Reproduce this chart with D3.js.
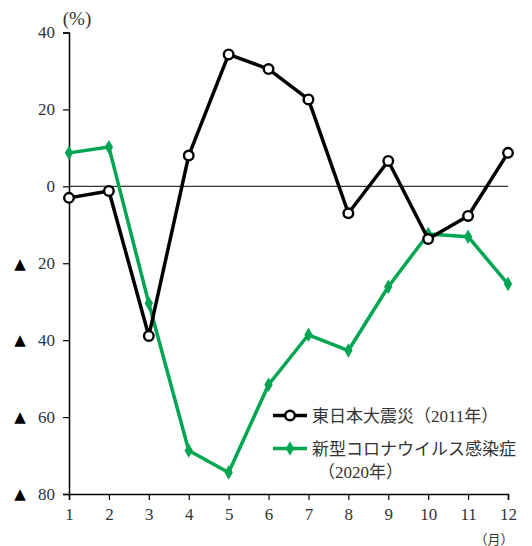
<!DOCTYPE html>
<html><head><meta charset="utf-8">
<script src="https://cdn.jsdelivr.net/npm/d3@7"></script>
<style>
body{margin:0;background:#fff;}
text{font-family:"Liberation Serif","DejaVu Serif","Noto Sans CJK JP",serif;fill:#333;}
</style></head>
<body><svg id="c" width="532" height="546"></svg>
<script>
const months = [1,2,3,4,5,6,7,8,9,10,11,12];
const quake2011 = [-3.0,-1.2,-38.9,8.0,34.3,30.5,22.6,-7.0,6.6,-13.7,-7.7,8.7];
const covid2020 = [8.7,10.2,-30.4,-68.7,-74.4,-51.6,-38.6,-42.7,-26.1,-12.4,-13.1,-25.4];
const yTicks = [40,20,0,-20,-40,-60,-80];
const seriesNames = ["東日本大震災（2011年）","新型コロナウイルス感染症","（2020年）"];
const colors = ["#000000","#00a651"];

const svg = d3.select("#c");
const x = d3.scaleLinear().domain([1,12]).range([69,508]);
const y = d3.scaleLinear().domain([-80,40]).range([494,32.5]);

// zero line
svg.append("line").attr("x1",x(1)).attr("x2",x(12)).attr("y1",y(0)).attr("y2",y(0))
  .attr("stroke","#333").attr("stroke-width",1.2);

// y axis
const ya = svg.append("g").attr("transform","translate(69,0)")
  .call(d3.axisLeft(y).tickValues(yTicks).tickSize(6).tickFormat(d=>Math.abs(d)));
ya.attr("font-family",null).attr("font-size",null);
ya.select(".domain").attr("stroke","#000").attr("stroke-width",1.5);
ya.selectAll(".tick line").attr("stroke","#000").attr("stroke-width",1.2);
ya.selectAll(".tick text").attr("x",-14).style("font-size","17px").style("fill","#333");
ya.selectAll(".tick").filter(d=>d<0).append("text").attr("x",-49).attr("dy","0.32em")
  .attr("text-anchor","middle").text("▲")
  .style("font-family","'DejaVu Sans',sans-serif").style("fill","#000").style("font-size","15px");

// x axis
const xa = svg.append("g").attr("transform","translate(0,494)")
  .call(d3.axisBottom(x).tickValues(months).tickSize(6).tickSizeOuter(6).tickFormat(d=>d));
xa.attr("font-family",null).attr("font-size",null);
xa.select(".domain").attr("stroke","#000").attr("stroke-width",1.5);
xa.selectAll(".tick line").attr("stroke","#000").attr("stroke-width",1.2);
xa.selectAll(".tick text").attr("y",14).style("font-size","17px").style("fill","#333");

svg.append("text").attr("x",77).attr("y",25).attr("text-anchor","middle").style("font-size","19px").text("(%)");
svg.append("text").attr("x",494).attr("y",544).attr("text-anchor","middle").style("font-size","13px").text("（月）");

const line = d3.line().x((d,i)=>x(months[i])).y(d=>y(d));

// green series
svg.append("path").datum(covid2020).attr("d",line).attr("fill","none")
  .attr("stroke",colors[1]).attr("stroke-width",3.5).attr("stroke-linejoin","round");
const diamond = d3.symbol().type(d3.symbolDiamond).size(60);
svg.selectAll(".gd").data(covid2020).join("path").attr("d",diamond)
  .attr("transform",(d,i)=>`translate(${x(months[i])},${y(d)})`).attr("fill",colors[1]);

// black series
svg.append("path").datum(quake2011).attr("d",line).attr("fill","none")
  .attr("stroke",colors[0]).attr("stroke-width",3.5).attr("stroke-linejoin","round");
svg.selectAll(".bc").data(quake2011).join("circle")
  .attr("cx",(d,i)=>x(months[i])).attr("cy",d=>y(d)).attr("r",4.8)
  .attr("fill","#fff").attr("stroke","#000").attr("stroke-width",2.4);

// legend
const lg = svg.append("g");
lg.append("rect").attr("x",270).attr("y",400).attr("width",262).attr("height",85).attr("fill","#fff");
lg.append("line").attr("x1",273).attr("x2",307).attr("y1",415.5).attr("y2",415.5).attr("stroke","#000").attr("stroke-width",3.5);
lg.append("circle").attr("cx",290).attr("cy",415.5).attr("r",4.8).attr("fill","#fff").attr("stroke","#000").attr("stroke-width",2.4);
lg.append("text").attr("x",312).attr("y",421.5).style("font-size","17px").text(seriesNames[0]);
lg.append("line").attr("x1",273).attr("x2",307).attr("y1",448.5).attr("y2",448.5).attr("stroke",colors[1]).attr("stroke-width",3.5);
lg.append("path").attr("d",diamond).attr("transform","translate(290,448.5)").attr("fill",colors[1]);
lg.append("text").attr("x",312).attr("y",454.5).style("font-size","17px").text(seriesNames[1]);
lg.append("text").attr("x",318).attr("y",477.5).style("font-size","17px").text(seriesNames[2]);
</script></body></html>
